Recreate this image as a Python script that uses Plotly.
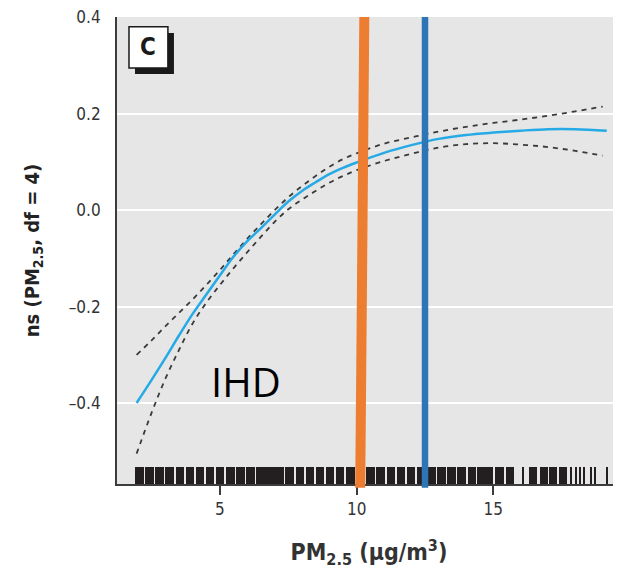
import plotly.graph_objects as go

# ---- data ----
fit_x = [1.95, 2.5, 3.0, 3.5, 4.0, 4.5, 5.0, 5.5, 6.0, 6.5, 7.0, 7.5, 8.0, 8.5, 9.0, 9.5,
         10.0, 11.0, 12.0, 13.0, 14.0, 15.0, 16.0, 17.0, 18.0, 19.15]
fit_y = [-0.40, -0.352, -0.307, -0.26, -0.215, -0.175, -0.135, -0.096, -0.064, -0.037, -0.009,
         0.018, 0.040, 0.058, 0.075, 0.088, 0.099, 0.119, 0.135, 0.148, 0.156, 0.161, 0.165,
         0.168, 0.168, 0.165]

ci_x = [1.95, 2.5, 3.0, 3.5, 4.0, 4.5, 5.0, 5.5, 6.0, 6.5, 7.0, 7.5, 8.0, 8.5, 9.0, 9.5,
        10.0, 11.0, 12.0, 13.0, 14.0, 15.0, 16.0, 17.0, 18.0, 19.0]
upper_y = [-0.30, -0.27, -0.241, -0.213, -0.185, -0.155, -0.124, -0.091, -0.059, -0.029, 0.0,
           0.027, 0.050, 0.071, 0.090, 0.106, 0.118, 0.138, 0.151, 0.163, 0.173, 0.181,
           0.188, 0.196, 0.205, 0.215]
lower_y = [-0.505, -0.42, -0.35, -0.29, -0.235, -0.192, -0.155, -0.12, -0.087, -0.055, -0.024,
           0.002, 0.022, 0.040, 0.057, 0.071, 0.083, 0.102, 0.117, 0.130, 0.137, 0.139,
           0.136, 0.131, 0.123, 0.113]

# rug: dense blocks of observations and isolated single observations
rug_dense_x = [2.05, 2.42, 2.79, 3.16, 3.53, 3.90, 4.27, 4.64, 5.01, 5.38, 5.75, 6.12, 6.49,
               6.72, 6.95, 7.18, 7.55, 7.92, 8.29, 8.66, 9.03, 9.40, 9.77, 10.14, 10.51,
               10.88, 11.25, 11.62, 11.99, 12.36, 12.73, 13.10, 13.47, 13.84, 14.21, 14.55,
               14.85, 15.22, 15.60, 16.45, 16.85, 17.18, 17.55]
rug_single_x = [16.08, 17.85, 18.05, 18.18, 18.33, 18.58, 18.72, 19.15]

orange_line_x = [10.13, 10.28]   # bottom, top
blue_line_x = 12.5

x_ticks = [5, 10, 15]
y_ticks = [-0.4, -0.2, 0.0, 0.2, 0.4]
y_ticktext = ["\u20130.4", "\u20130.2", "0.0", "0.2", "0.4"]

X_RANGE = [1.233, 19.67]
Y_RANGE = [-0.568, 0.4008]
RUG_H = 0.035

FONT_C = "DejaVu Sans Condensed, Liberation Sans Narrow, sans-serif"

fig = go.Figure()

fig.add_trace(go.Bar(
    x=rug_dense_x, y=[RUG_H] * len(rug_dense_x), base=Y_RANGE[0], width=0.31,
    marker=dict(color="#231f20", line=dict(width=0)), showlegend=False, hoverinfo="skip"))
fig.add_trace(go.Bar(
    x=rug_single_x, y=[RUG_H] * len(rug_single_x), base=Y_RANGE[0], width=0.055,
    marker=dict(color="#231f20", line=dict(width=0)), showlegend=False, hoverinfo="skip"))

fig.add_trace(go.Scatter(x=ci_x, y=upper_y, mode="lines", line_shape="spline",
                         line=dict(color="#3a3a3a", width=1.8, dash="5px,5px"),
                         showlegend=False))
fig.add_trace(go.Scatter(x=ci_x, y=lower_y, mode="lines", line_shape="spline",
                         line=dict(color="#3a3a3a", width=1.8, dash="5px,5px"),
                         showlegend=False))
fig.add_trace(go.Scatter(x=fit_x, y=fit_y, mode="lines", line_shape="spline",
                         line=dict(color="#25aae6", width=2.5), showlegend=False))

shapes = [
    dict(type="line", xref="paper", yref="y", x0=0, x1=1, y0=0, y1=0,
         line=dict(color="#3c3c3c", width=1.8), layer="below"),
    dict(type="line", xref="x", yref="paper", x0=orange_line_x[0], x1=orange_line_x[1],
         y0=-0.008, y1=1.0, line=dict(color="#ed7d31", width=10)),
    dict(type="line", xref="x", yref="paper", x0=blue_line_x, x1=blue_line_x,
         y0=-0.008, y1=1.0, line=dict(color="#2e75b6", width=6.5)),
    dict(type="rect", xref="paper", yref="paper", x0=0.0357, x1=0.113, y0=0.878, y1=0.966,
         fillcolor="#1a1a1a", line=dict(width=0)),
    dict(type="rect", xref="paper", yref="paper", x0=0.0238, x1=0.101, y0=0.891, y1=0.979,
         fillcolor="white", line=dict(color="#1a1a1a", width=1.5)),
]

annotations = [
    dict(text="<b>C</b>", xref="paper", yref="paper", x=0.0624, y=0.935, showarrow=False,
         font=dict(family=FONT_C, size=24, color="#1a1a1a"),
         xanchor="center", yanchor="middle"),
    dict(text="IHD", xref="x", yref="y", x=5.95, y=-0.355, showarrow=False,
         font=dict(family="Open Sans, sans-serif", size=40, color="black"),
         xanchor="center", yanchor="middle"),
]

# the page body has an 8 px margin, so the figure is sized/offset to compensate
fig.update_layout(
    width=613, height=569,
    margin=dict(l=109, r=0, t=9, b=93),
    paper_bgcolor="white", plot_bgcolor="#e6e6e6",
    shapes=shapes, annotations=annotations, bargap=0, barmode="overlay",
    xaxis=dict(range=X_RANGE, tickvals=x_ticks, ticks="outside", ticklen=9, tickwidth=1.5,
               tickcolor="#3c3c3c", showgrid=False, zeroline=False, showline=True,
               linecolor="#3c3c3c", linewidth=1.8, automargin=False,
               tickfont=dict(family=FONT_C, size=17, color="#333333"),
               title=dict(text="<b>PM<sub>2.5</sub> (µg/m<sup>3</sup>)</b>",
                          font=dict(family=FONT_C, size=23, color="#333333"), standoff=26)),
    yaxis=dict(range=Y_RANGE, tickvals=y_ticks, ticktext=y_ticktext, ticks="",
               showgrid=True, gridcolor="white", gridwidth=1.5, zeroline=False,
               showline=True, linecolor="#3c3c3c", linewidth=1.8, ticklabelstandoff=11,
               automargin=False, ticklabeloverflow="allow",
               tickfont=dict(family=FONT_C, size=17, color="#333333"),
               title=dict(text="<b>ns (PM<sub>2.5</sub>, df = 4)</b>",
                          font=dict(family=FONT_C, size=20, color="#222222"), standoff=24)),
)

fig.write_html("out.html")
